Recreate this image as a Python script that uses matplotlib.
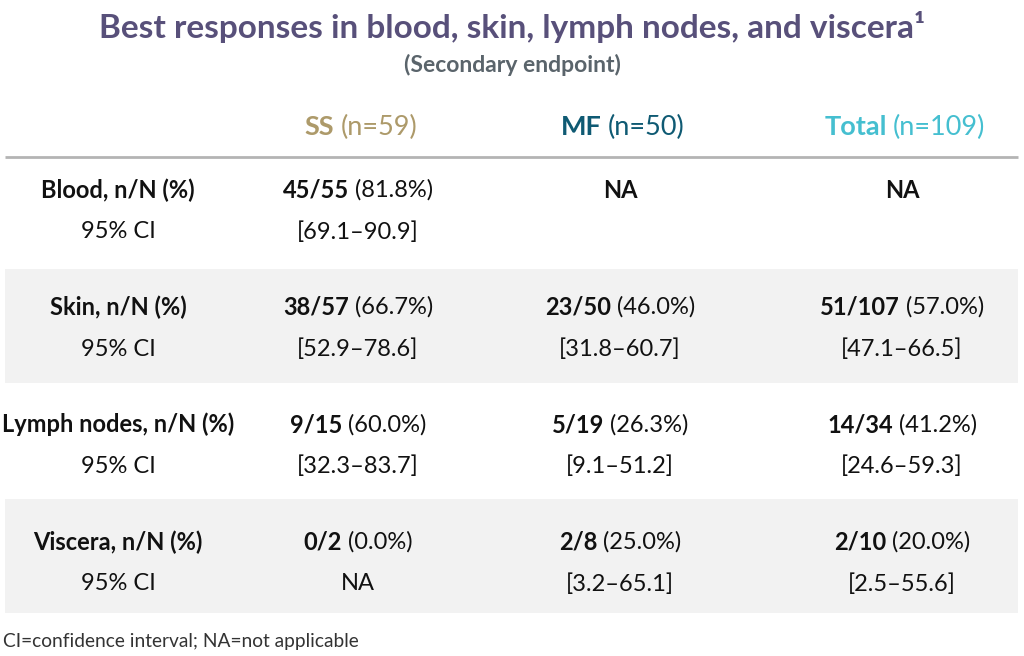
import matplotlib
matplotlib.use("Agg")
import matplotlib.pyplot as plt
from matplotlib.patches import Rectangle

plt.rcParams['font.family'] = ['Lato', 'DejaVu Sans']

title = "Best responses in blood, skin, lymph nodes, and viscera\u00b9"
subtitle = "(Secondary endpoint)"
footnote = "CI=confidence interval; NA=not applicable"

groups = ["SS", "MF", "Total"]
group_n = ["(n=59)", "(n=50)", "(n=109)"]
group_colors = ["#ad9a6a", "#0f5a73", "#45bfd0"]

row_labels = ["Blood, n/N (%)", "Skin, n/N (%)", "Lymph nodes, n/N (%)", "Viscera, n/N (%)"]
# bold count, percentage, CI for each row: [SS, MF, Total]
counts = [["45/55", "NA", "NA"],
          ["38/57", "23/50", "51/107"],
          ["9/15", "5/19", "14/34"],
          ["0/2", "2/8", "2/10"]]
pcts = [["(81.8%)", "", ""],
        ["(66.7%)", "(46.0%)", "(57.0%)"],
        ["(60.0%)", "(26.3%)", "(41.2%)"],
        ["(0.0%)", "(25.0%)", "(20.0%)"]]
cis = [["[69.1\u201390.9]", "", ""],
       ["[52.9\u201378.6]", "[31.8\u201360.7]", "[47.1\u201366.5]"],
       ["[32.3\u201383.7]", "[9.1\u201351.2]", "[24.6\u201359.3]"],
       ["NA", "[3.2\u201365.1]", "[2.5\u201355.6]"]]

W, H = 1024, 656
fig = plt.figure(figsize=(W / 100, H / 100), dpi=100)
ax = fig.add_axes([0, 0, 1, 1])
ax.set_xlim(0, W)
ax.set_ylim(H, 0)
ax.axis("off")
renderer = fig.canvas.get_renderer()

col_x = [118, 358, 620, 902]
band_top = [157, 269, 384, 499]
band_h = 114
fs = 17


def two_part(x, y, bold, regular, color, size, gap=6):
    t1 = ax.text(0, y, bold, fontsize=size, fontweight="bold", color=color, va="center", ha="left")
    t2 = ax.text(0, y, regular, fontsize=size, color=color, va="center", ha="left")
    w1 = t1.get_window_extent(renderer).width
    w2 = t2.get_window_extent(renderer).width if regular else 0
    g = gap if regular else 0
    x0 = x - (w1 + g + w2) / 2
    t1.set_x(x0)
    t2.set_x(x0 + w1 + g)


ax.text(W / 2, 27, title, fontsize=24, fontweight="bold", color="#58507a", ha="center", va="center")
ax.text(W / 2, 65, subtitle, fontsize=16.5, fontweight="bold", color="#5a646b", ha="center", va="center")

for j in range(3):
    two_part(col_x[j + 1] + 3, 127, groups[j], group_n[j], group_colors[j], 19.5)

ax.plot([5, 1018], [157, 157], color="#b4b4b4", lw=2, solid_capstyle="butt")

for i in range(len(row_labels)):
    if i % 2 == 1:
        ax.add_patch(Rectangle((5, band_top[i]), 1013, band_h, color="#f2f2f2", lw=0, zorder=0))
    y1 = 190 + 117.3 * i
    y2 = y1 + 42
    ax.text(col_x[0], y1, row_labels[i], fontsize=fs, fontweight="bold", color="#111111", ha="center", va="center")
    ax.text(col_x[0], y2, "95% CI", fontsize=fs, color="#111111", ha="center", va="center")
    for j in range(3):
        two_part(col_x[j + 1], y1, counts[i][j], pcts[i][j], "#111111", fs)
        if cis[i][j]:
            ax.text(col_x[j + 1], y2, cis[i][j], fontsize=fs, color="#111111", ha="center", va="center")

ax.text(3, 641, footnote, fontsize=13.8, color="#333333", ha="left", va="center")

fig.savefig("out.png", dpi=100)
